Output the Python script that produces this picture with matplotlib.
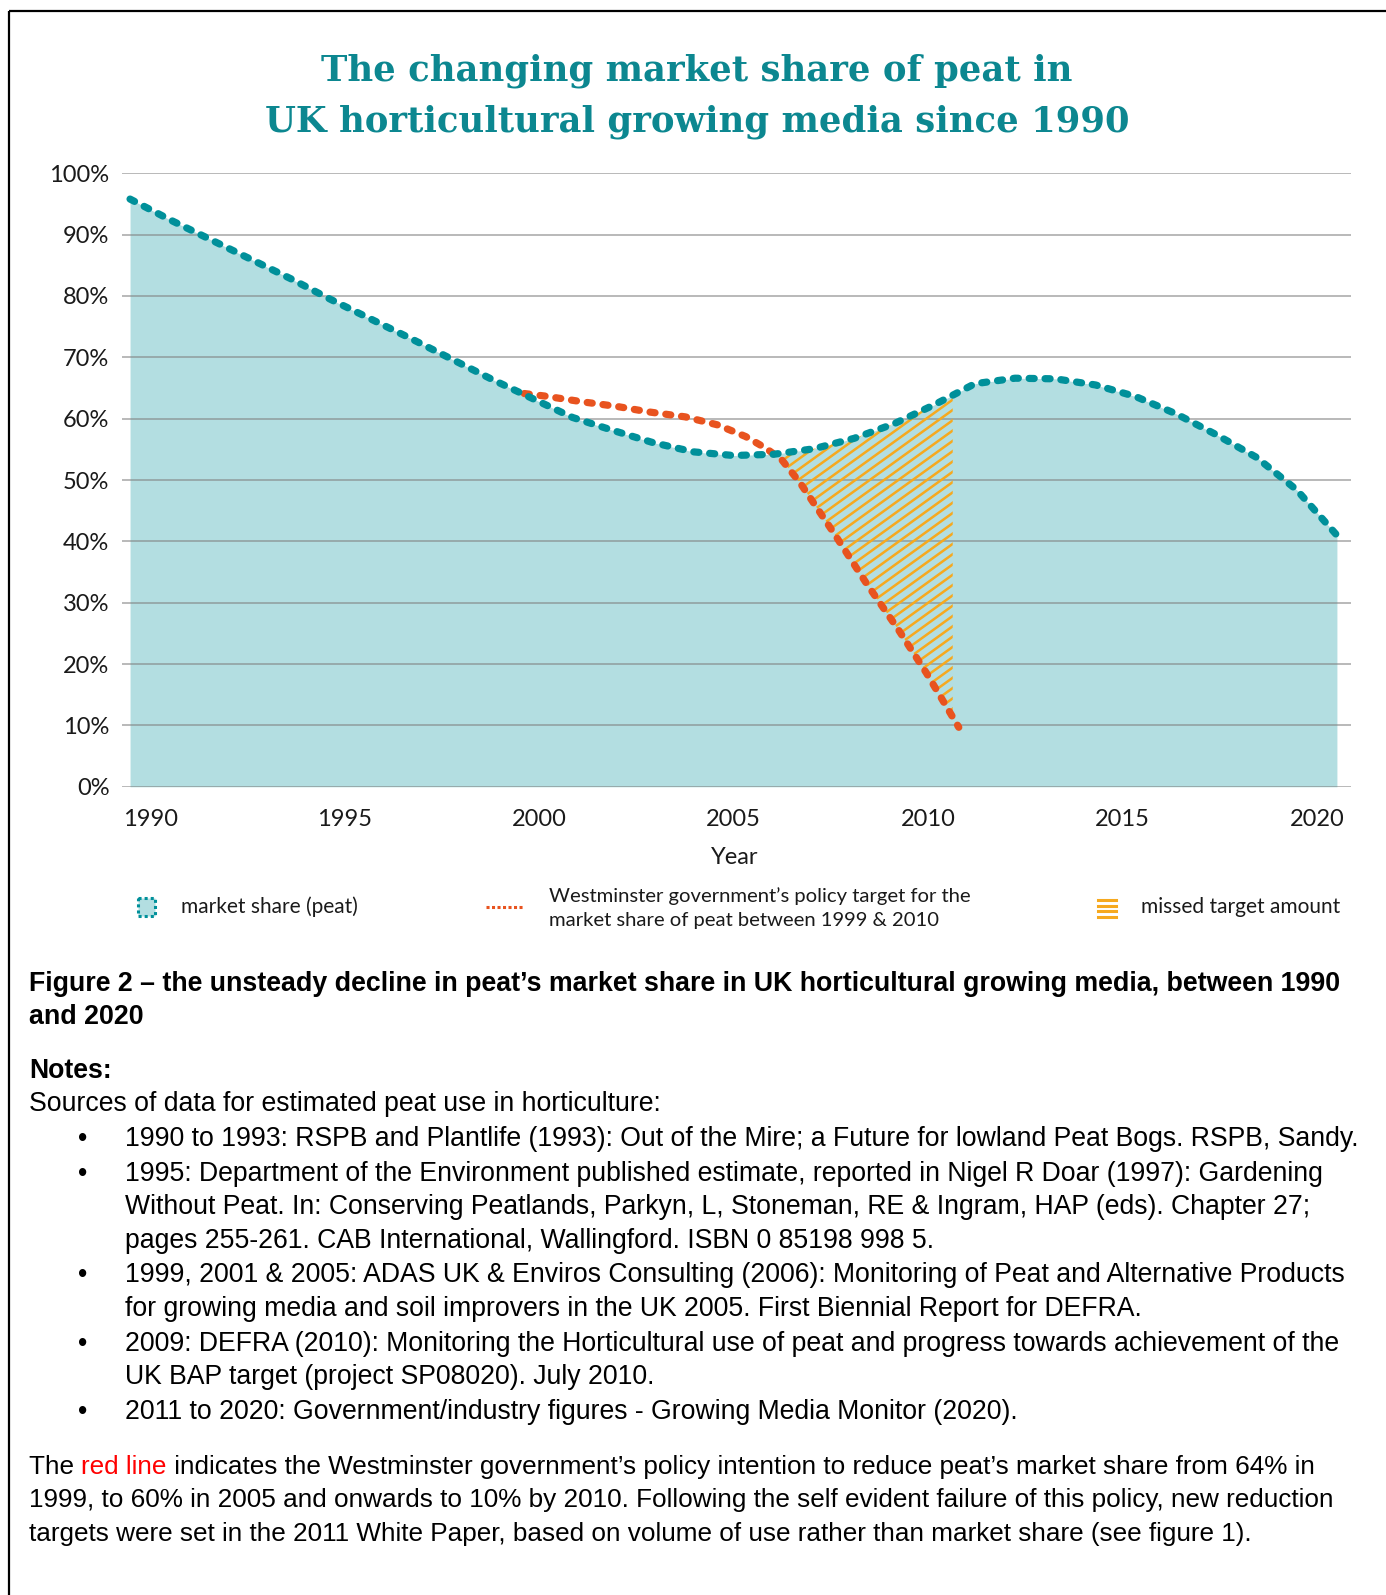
import numpy as np
import matplotlib.pyplot as plt
from matplotlib.patches import Rectangle, Polygon
from matplotlib.collections import LineCollection

# market share of peat (%)
years = list(range(1990, 2021))
peat_share = [95.8, 92.4, 89.2, 86.0, 82.8, 79.4, 76.2, 73.0, 69.7, 66.4,
              63.3, 60.2, 58.1, 56.1, 54.6, 54.0, 54.2, 55.1, 56.8, 59.2,
              62.3, 65.7, 66.6, 66.5, 65.5, 63.6, 60.8, 57.4, 53.7, 48.4, 41.0]

# Westminster policy target line (red)
target_years = [1999.8, 2000.3, 2001.3, 2002.1, 2002.9, 2003.8, 2004.6, 2005.3,
                2005.8, 2006.2, 2006.65, 2007.5, 2008.3, 2009.1, 2009.8, 2010.6]
target_share = [64.1, 63.7, 62.7, 62.0, 61.1, 60.3, 59.0, 57.1,
                55.2, 53.3, 49.6, 41.3, 33.2, 25.6, 18.5, 9.7]
missed_end = 2010.45

tick_years = [1990, 1995, 2000, 2005, 2010, 2015, 2020]
y_ticks = list(range(0, 101, 10))

title_lines = ["The changing market share of peat in",
               "UK horticultural growing media since 1990"]
legend_labels = ["market share (peat)",
                 "Westminster government\u2019s policy target for the\nmarket share of peat between 1999 & 2010",
                 "missed target amount"]

caption = ["Figure 2 \u2013 the unsteady decline in peat\u2019s market share in UK horticultural growing media, between 1990",
           "and 2020"]
bullets = [
    ["1990 to 1993: RSPB and Plantlife (1993): Out of the Mire; a Future for lowland Peat Bogs. RSPB, Sandy."],
    ["1995: Department of the Environment published estimate, reported in Nigel R Doar (1997): Gardening",
     "Without Peat. In: Conserving Peatlands, Parkyn, L, Stoneman, RE & Ingram, HAP (eds). Chapter 27;",
     "pages 255-261. CAB International, Wallingford. ISBN 0 85198 998 5."],
    ["1999, 2001 & 2005: ADAS UK & Enviros Consulting (2006): Monitoring of Peat and Alternative Products",
     "for growing media and soil improvers in the UK 2005. First Biennial Report for DEFRA."],
    ["2009: DEFRA (2010): Monitoring the Horticultural use of peat and progress towards achievement of the",
     "UK BAP target (project SP08020). July 2010."],
    ["2011 to 2020: Government/industry figures - Growing Media Monitor (2020)."],
]
para_lines = [
    ["The ", "red line", " indicates the Westminster government\u2019s policy intention to reduce peat\u2019s market share from 64% in"],
    ["1999, to 60% in 2005 and onwards to 10% by 2010. Following the self evident failure of this policy, new reduction"],
    ["targets were set in the 2011 White Paper, based on volume of use rather than market share (see figure 1)."],
]

TEAL = '#00909a'
FILL = '#b3dee1'
RED = '#e8531f'
ORANGE = '#f6a91f'
TITLE = '#0c8790'
INK = '#1a1a1a'

W, H = 1386, 1595
fig = plt.figure(figsize=(W / 100, H / 100), dpi=100)


def px_box(l, t, r, b):
    return [l / W, 1 - b / H, (r - l) / W, (b - t) / H]


# ---- main chart
ax = fig.add_axes(px_box(122, 173.3, 1351, 786.8))
ax.set_xlim(1989.80, 2020.35)
ax.set_ylim(0, 100)
for s in ax.spines.values():
    s.set_visible(False)

ax.fill_between(years, peat_share, 0, color=FILL, lw=0, zorder=1)
for v in y_ticks:
    ax.axhline(v, color='#7f7f7f', alpha=0.55, lw=1.4, zorder=2)

# missed target area, hatched
xs = np.linspace(target_years[0], missed_end, 600)
teal_i = np.interp(xs, years, peat_share)
red_i = np.interp(xs, target_years, target_share)
m = teal_i >= red_i
verts = np.vstack([np.column_stack([xs[m], teal_i[m]]),
                   np.column_stack([xs[m][::-1], red_i[m][::-1]])])
poly = Polygon(verts, closed=True, facecolor='none', edgecolor='none')
ax.add_patch(poly)
px_x = ax.get_position().width * W / (2020.35 - 1989.80)
px_y = ax.get_position().height * H / 100
slope = 0.72 * px_x / px_y
step = 10.3 / px_y
segs = []
for c in np.arange(-60, 80, step):
    segs.append([(2005, c), (2011, c + slope * 6)])
lc = LineCollection(segs, colors=ORANGE, linewidths=1.8, zorder=3)
ax.add_collection(lc)
lc.set_clip_path(poly)

ax.plot(target_years, target_share, color=RED, lw=5.2,
        linestyle=(0, (0.7, 1.5)), dash_capstyle='round', zorder=4)
ax.plot(years, peat_share, color=TEAL, lw=5.2,
        linestyle=(0, (0.7, 1.5)), dash_capstyle='round', zorder=5)

ax.set_yticks(y_ticks, [f"{v}%" for v in y_ticks])
ax.set_xticks(np.linspace(1990.5, 2019.5, len(tick_years)), [str(t) for t in tick_years])
ax.tick_params(axis='both', length=0, labelsize=17, labelcolor=INK)
ax.tick_params(axis='y', pad=9)
ax.tick_params(axis='x', pad=16)
for lab in ax.get_xticklabels() + ax.get_yticklabels():
    lab.set_family('Lato')

# ---- overlay in pixel coordinates for text and legend
ov = fig.add_axes([0, 0, 1, 1])
ov.set_xlim(0, W)
ov.set_ylim(H, 0)
ov.axis('off')

ov.add_patch(Rectangle((9, 11), 1600, 1800, fill=False, edgecolor='black', lw=1.6))

ov.text(697, 71, title_lines[0], ha='center', va='center', fontsize=25.5,
        family='DejaVu Serif', weight='bold', color=TITLE)
ov.text(697, 122, title_lines[1], ha='center', va='center', fontsize=25.5,
        family='DejaVu Serif', weight='bold', color=TITLE)

ov.text(735, 858, "Year", ha='center', va='center', fontsize=17, family='Lato', color=INK)

# legend
ov.add_patch(Rectangle((138, 898), 17, 18, facecolor=FILL, edgecolor=TEAL,
                       lw=2.2, linestyle=(0, (1, 1))))
ov.text(181, 907, legend_labels[0], ha='left', va='center', fontsize=15, family='Lato', color=INK)
ov.plot([486, 524], [907, 907], color=RED, lw=2.2, linestyle=(0, (1, 0.8)))
ov.text(549, 908, legend_labels[1], ha='left', va='center', fontsize=14.6, family='Lato',
        color=INK, linespacing=1.45)
for yy in [900, 905.5, 911, 916.5]:
    ov.plot([1098, 1116], [yy, yy], color=ORANGE, lw=2.2)
ov.text(1141, 907, legend_labels[2], ha='left', va='center', fontsize=15, family='Lato', color=INK)

# notes
FS = 19.2
NF = 'Liberation Sans'
ov.text(29, 984, caption[0], ha='left', va='center', fontsize=19.3, family=NF, weight='bold', color='black')
ov.text(29, 1017, caption[1], ha='left', va='center', fontsize=19.3, family=NF, weight='bold', color='black')
ov.text(29, 1071, "Notes:", ha='left', va='center', fontsize=FS, family=NF, weight='bold', color='black')
ov.text(29, 1104, "Sources of data for estimated peat use in horticulture:", ha='left', va='center',
        fontsize=FS, family=NF, color='black')

y = 1139
for item in bullets:
    ov.text(83, y, "\u2022", ha='center', va='center', fontsize=FS, family=NF, color='black')
    for line in item:
        ov.text(125, y, line, ha='left', va='center', fontsize=FS, family=NF, color='black')
        y += 33.6
    y += 1

PS = 18.85
y = 1467
for parts in para_lines:
    t = ov.text(29, y, parts[0], ha='left', va='center', fontsize=PS, family=NF, color='black')
    for p in parts[1:]:
        col = '#ff0000' if p == "red line" else 'black'
        t = ov.annotate(p, xy=(1, 0.5), xycoords=t, ha='left', va='center',
                        fontsize=PS, family=NF, color=col)
    y += 33.3

fig.savefig('out.png', dpi=100)
